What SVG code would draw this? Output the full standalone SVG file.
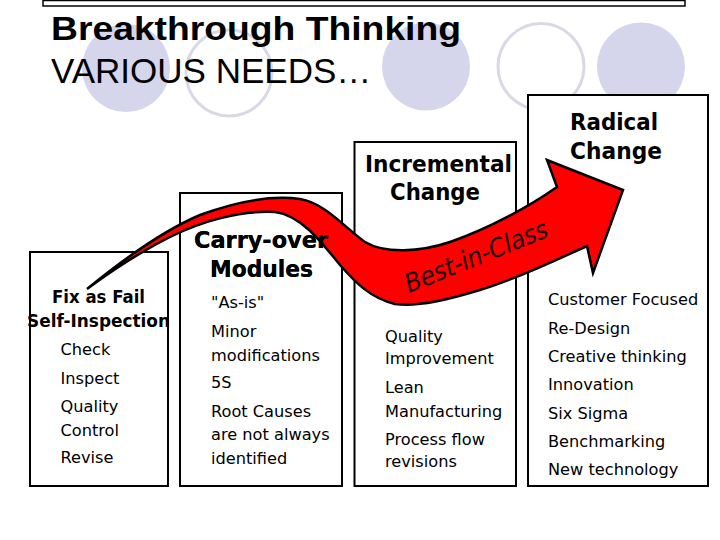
<svg xmlns="http://www.w3.org/2000/svg" xmlns:xlink="http://www.w3.org/1999/xlink" width="720" height="540" viewBox="0 0 720 540">
<style>
.bg{fill:#ffffff}
.dot{fill:#D5D5EB}
.ring{fill:none;stroke:#D9D9E6;stroke-width:3}
.box{fill:#ffffff;stroke:#000000;stroke-width:2}
.hd{font-family:"DejaVu Sans",Verdana,sans-serif;font-weight:bold;fill:#000}
.it{font-family:"DejaVu Sans",Verdana,sans-serif;font-size:16.2px;fill:#000}
.title{font-family:"Liberation Sans",Arial,sans-serif;fill:#000}
.arrow{fill:#FF0000;stroke:#000000;stroke-width:2.5;stroke-linejoin:miter}
</style>
<rect class="bg" x="0" y="0" width="720" height="540"/>
<g id="decor">
<circle class="dot" cx="126" cy="68" r="44"/>
<circle class="ring" cx="229" cy="73" r="43"/>
<circle class="dot" cx="426" cy="66.5" r="44"/>
<circle class="ring" cx="541" cy="66.5" r="43"/>
<circle class="dot" cx="641" cy="66.5" r="44"/>
<rect x="43" y="0.5" width="642" height="5.5" fill="#fff" stroke="#000" stroke-width="1.5"/>
</g>
<g id="title">
<text class="title" x="51" y="40" font-size="34" font-weight="bold" textLength="410" lengthAdjust="spacingAndGlyphs">Breakthrough Thinking</text>
<text class="title" x="51" y="83" font-size="35">VARIOUS NEEDS…</text>
</g>
<g id="fix">
<rect class="box" x="30" y="252" width="138" height="234"/>
<text class="hd" x="52" y="303" font-size="18" textLength="93" lengthAdjust="spacingAndGlyphs">Fix as Fail</text>
<text class="hd" x="27" y="327" font-size="18" textLength="143" lengthAdjust="spacingAndGlyphs">Self-Inspection</text>
<text class="it" x="60.5" y="355">Check</text>
<text class="it" x="60.5" y="384">Inspect</text>
<text class="it" x="60.5" y="412">Quality</text>
<text class="it" x="60.5" y="435.5">Control</text>
<text class="it" x="60.5" y="463">Revise</text>
</g>
<g id="carryover">
<rect class="box" x="180" y="193" width="162" height="293"/>
<text id="co1" class="hd" x="194" y="248" font-size="23" textLength="134" lengthAdjust="spacingAndGlyphs">Carry-over</text>
<text id="co2" class="hd" x="210" y="277" font-size="23" textLength="103" lengthAdjust="spacingAndGlyphs">Modules</text>
<text class="it" x="211" y="308">"As-is"</text>
<text class="it" x="211" y="337">Minor</text>
<text class="it" x="211" y="361">modifications</text>
<text class="it" x="211" y="388">5S</text>
<text class="it" x="211" y="417">Root Causes</text>
<text class="it" x="211" y="440">are not always</text>
<text class="it" x="211" y="463.5">identified</text>
</g>
<g id="incremental">
<rect class="box" x="354.5" y="142" width="161.5" height="344"/>
<text class="hd" x="365" y="172" font-size="23" textLength="147" lengthAdjust="spacingAndGlyphs">Incremental</text>
<text class="hd" x="390" y="200" font-size="23" textLength="90" lengthAdjust="spacingAndGlyphs">Change</text>
<text class="it" x="385" y="341.5">Quality</text>
<text class="it" x="385" y="363.5">Improvement</text>
<text class="it" x="385" y="393">Lean</text>
<text class="it" x="385" y="416.5">Manufacturing</text>
<text class="it" x="385" y="445">Process flow</text>
<text class="it" x="385" y="467">revisions</text>
</g>
<g id="radical">
<rect class="box" x="528" y="95" width="180" height="391"/>
<text class="hd" x="570" y="130" font-size="23" textLength="88" lengthAdjust="spacingAndGlyphs">Radical</text>
<text class="hd" x="570" y="159" font-size="23" textLength="92" lengthAdjust="spacingAndGlyphs">Change</text>
<text class="it" x="548" y="305">Customer Focused</text>
<text class="it" x="548" y="333.5">Re-Design</text>
<text class="it" x="548" y="362">Creative thinking</text>
<text class="it" x="548" y="390">Innovation</text>
<text class="it" x="548" y="418.5">Six Sigma</text>
<text class="it" x="548" y="447">Benchmarking</text>
<text class="it" x="548" y="475">New technology</text>
</g>
<g id="connectors">
<path class="arrow" d="M 87 289 C 120 262, 160 232, 200 215 C 235 202, 270 195, 300 199 C 325 203, 345 228, 365 242 C 385 254, 420 252, 450 242 C 490 228, 530 206, 557 187 L 547 160 L 623 190 L 593 273 L 587 246 C 560 258, 520 278, 480 290 C 450 299, 420 307, 395 304 C 370 298, 355 282, 340 265 C 320 240, 300 215, 275 212 C 240 210, 200 222, 170 237 C 140 252, 110 272, 87 289 Z"/>
<text transform="translate(409,293) rotate(-22)" x="0" y="0" font-family="'DejaVu Sans',Verdana,sans-serif" font-style="italic" font-size="26" fill="#1a0000" textLength="152" lengthAdjust="spacingAndGlyphs">Best-in-Class</text>
</g>
<g id="carryover-labels-front">
<use href="#co1" xlink:href="#co1"/>
<use href="#co2" xlink:href="#co2"/>
</g>
</svg>
